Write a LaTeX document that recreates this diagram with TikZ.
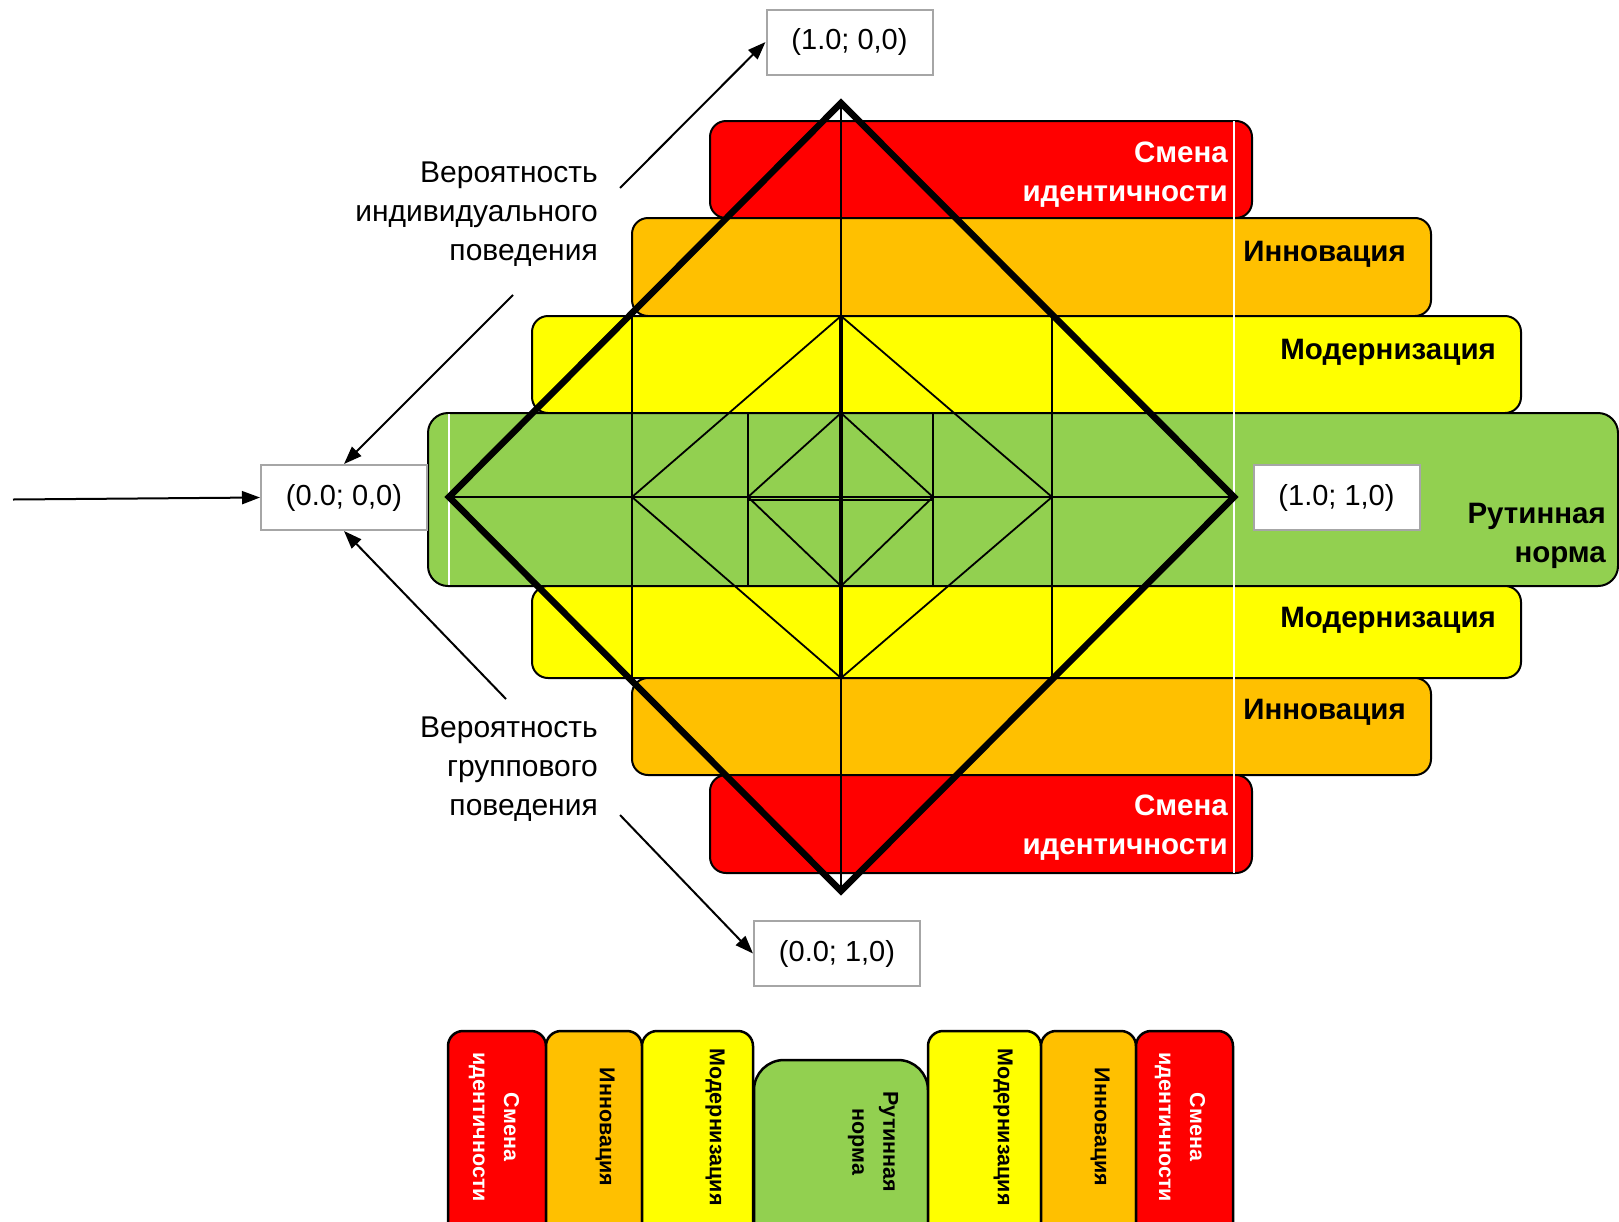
\documentclass[tikz,border=0pt]{standalone}
\usepackage{fontspec}
\setmainfont{Liberation Sans}
\usetikzlibrary{arrows.meta}
\definecolor{cred}{HTML}{FF0000}
\definecolor{corange}{HTML}{FFC000}
\definecolor{cyellow}{HTML}{FFFF00}
\definecolor{cgreen}{HTML}{92D050}
\definecolor{cgray}{HTML}{A6A6A6}
\begin{document}
\begin{tikzpicture}[x=1pt,y=-1pt,
  band/.style={draw=black, line width=2pt, rounded corners=16pt},
  gridline/.style={line width=1.8pt, black},
  whiteline/.style={line width=2pt, white},
  coordbox/.style={draw=cgray, line width=2pt, fill=white, minimum width=166pt, minimum height=65pt, inner sep=0pt, font=\fontsize{29}{34}\selectfont},
  lbl/.style={font=\bfseries\fontsize{29.5}{34}\selectfont, anchor=base east, inner sep=0pt},
  side/.style={font=\fontsize{30}{34}\selectfont, anchor=base east, inner sep=0pt},
  arr/.style={line width=2pt, -{Triangle[length=18pt,width=13pt]}},
  leg/.style={draw=black, line width=2.5pt, rounded corners=15pt},
  legtxt/.style={font=\bfseries\fontsize{21.5}{31}\selectfont, rotate=-90, align=center, inner sep=0pt}
]
\useasboundingbox[fill=white] (0,0) rectangle (1619,1221);

% bands
\draw[band, fill=cred] (710,121) rectangle (1252,218);
\draw[band, fill=corange] (632,218) rectangle (1431,316);
\draw[band, fill=cyellow] (532,316) rectangle (1521,413);
\draw[band, fill=cgreen, rounded corners=20pt] (428,413) rectangle (1618,586);
\draw[band, fill=cyellow] (532,586) rectangle (1521,678);
\draw[band, fill=corange] (632,678) rectangle (1431,775);
\draw[band, fill=cred] (710,775) rectangle (1252,873);

% white vertical lines
\draw[whiteline] (1234,121) -- (1234,873);
\draw[whiteline] (449,414) -- (449,585);

% inner grid
\draw[gridline] (449,497) -- (1234,497);
\draw[gridline] (748,500) -- (933,500);
\draw[gridline] (632,316) -- (632,678);
\draw[gridline] (1052,316) -- (1052,678);
\draw[gridline] (748,413) -- (748,586);
\draw[gridline] (933,413) -- (933,586);
\draw[gridline] (632,497) -- (841,316) -- (1052,497) -- (841,678) -- cycle;
\draw[gridline] (748,497) -- (841,413) -- (933,497) -- (841,586) -- cycle;
\draw[gridline] (841,103) -- (841,891);
\draw[line width=3.5pt] (841,316) -- (841,678);

% big diamond
\draw[line width=6.5pt, line join=miter] (449,497) -- (841,103) -- (1234,497) -- (841,891) -- cycle;

% band labels
\node[lbl, text=white] (r1a) at (1228,162) {Смена};
\node[lbl, text=white] (r1b) at (1228,201) {идентичности};
\node[lbl] (o1) at (1406,261) {Инновация};
\node[lbl] (y1) at (1496,359) {Модернизация};
\node[lbl] (g1a) at (1606,523) {Рутинная};
\node[lbl] (g1b) at (1606,562) {норма};
\node[lbl] (y2) at (1496,627) {Модернизация};
\node[lbl] (o2) at (1406,719) {Инновация};
\node[lbl, text=white] (r2a) at (1228,815) {Смена};
\node[lbl, text=white] (r2b) at (1228,854) {идентичности};

% coordinate boxes
\node[coordbox] (b10) at (849.5,42) {(1.0; 0,0)};
\node[coordbox] (b00) at (344,497.5) {(0.0; 0,0)};
\node[coordbox] (b11) at (1336.5,497.5) {(1.0; 1,0)};
\node[coordbox] (b01) at (837,953.5) {(0.0; 1,0)};

% side texts
\node[side] (i1) at (598,182) {Вероятность};
\node[side] (i2) at (598,221) {индивидуального};
\node[side] (i3) at (598,260) {поведения};
\node[side] (gr1) at (598,737) {Вероятность};
\node[side] (gr2) at (598,776) {группового};
\node[side] (gr3) at (598,815) {поведения};

% arrows
\coordinate (s1) at (620,188);
\coordinate (s2) at (513,295);
\coordinate (s3) at (13,499.5);
\coordinate (s4) at (506,699);
\coordinate (s5) at (620,815);
\draw[arr] (s1) -- (b10.west);
\draw[arr] (s2) -- (b00.north);
\draw[arr] (s3) -- (b00.west);
\draw[arr] (s4) -- (b00.south);
\draw[arr] (s5) -- (b01.west);

% legend
\begin{scope}
\clip (0,0) rectangle (1619,1221);
\draw[leg, fill=cred] (448,1031) rectangle (546,1260);
\draw[leg, fill=corange] (546,1031) rectangle (642,1260);
\draw[leg, fill=cyellow] (642,1031) rectangle (753,1260);
\draw[leg, fill=cgreen, rounded corners=30pt] (754,1060) rectangle (928,1260);
\draw[leg, fill=cyellow] (928,1031) rectangle (1041,1260);
\draw[leg, fill=corange] (1041,1031) rectangle (1136,1260);
\draw[leg, fill=cred] (1136,1031) rectangle (1233,1260);
\end{scope}
\node[legtxt, text=white] (l1) at (494,1127) {Смена\\идентичности};
\node[legtxt] (l2) at (605,1127) {Инновация};
\node[legtxt] (l3) at (715,1127) {Модернизация};
\node[legtxt] (l4) at (873,1142) {Рутинная\\норма};
\node[legtxt] (l5) at (1003,1127) {Модернизация};
\node[legtxt] (l6) at (1100,1127) {Инновация};
\node[legtxt, text=white] (l7) at (1180,1127) {Смена\\идентичности};
\end{tikzpicture}
\end{document}
